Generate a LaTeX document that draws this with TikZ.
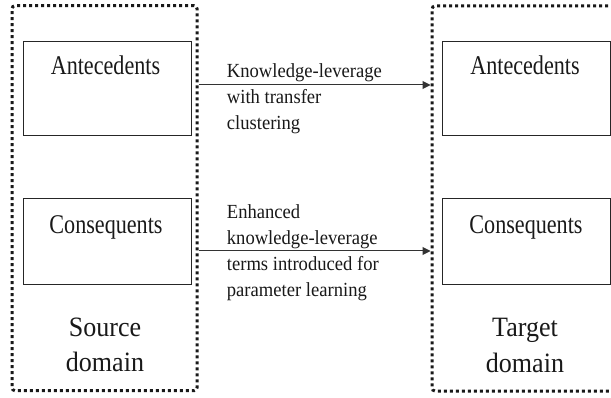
\documentclass[tikz,border=0pt]{standalone}
\usepackage{fontspec}
\setmainfont{Liberation Serif}
\newfontfamily\condA[FakeStretch=0.82]{Liberation Serif}
\newfontfamily\condB[FakeStretch=0.93]{Liberation Serif}
\usetikzlibrary{arrows.meta}
\begin{document}
\begin{tikzpicture}[x=1pt,y=-1pt,
  domainbox/.style={draw=black!90, line width=3pt, dash pattern=on 3pt off 3pt, rounded corners=3pt, minimum width=185pt, inner sep=0pt},
  partbox/.style={draw=black!85, line width=1pt, minimum width=168pt, inner sep=0pt},
  boxtext/.style={font=\condA\fontsize{27}{32}\selectfont, anchor=base, inner sep=0pt, text=black!90},
  domtext/.style={font=\condB\fontsize{28}{35.5}\selectfont, align=center, anchor=north, inner sep=0pt, text=black!90},
  arrowtext/.style={font=\condB\fontsize{20}{26}\selectfont, align=left, anchor=north west, inner sep=0pt, text=black!90},
  arrowline/.style={draw=black!80, line width=1pt, -{Triangle[length=8pt,width=8pt]}}
]
\useasboundingbox (0,0) rectangle (611,398);
\clip (0,0) rectangle (611,398);
\fill[white] (0,0) rectangle (611,398);
% outer domains
\node[domainbox, minimum height=385pt] (src) at (104.5,198.2) {};
\node[domainbox, minimum height=385pt] (tgt) at (524.5,198.5) {};
% inner boxes
\node[partbox, minimum height=94pt] (srcA) at (107,88.7) {};
\node[partbox, minimum height=86pt] (srcC) at (107,241.3) {};
\node[partbox, minimum height=94pt] (tgtA) at (526.2,88.7) {};
\node[partbox, minimum height=86pt] (tgtC) at (526.2,241.3) {};
% box texts
\node[boxtext] (srcAt) at (105.5,75) {Antecedents};
\node[boxtext] (srcCt) at (106,233.3) {Consequents};
\node[boxtext] (tgtAt) at (525,75) {Antecedents};
\node[boxtext] (tgtCt) at (526,233.3) {Consequents};
% domain texts
\node[domtext] (srct) at (105,317.7) {Source\\domain};
\node[domtext] (tgtt) at (525,318.2) {Target\\domain};
% arrows
\coordinate (ytop) at (0,85);
\coordinate (ybot) at (0,251);
\draw[arrowline] (src.east |- ytop) -- (tgt.west |- ytop);
\draw[arrowline] (src.east |- ybot) -- (tgt.west |- ybot);
% arrow labels
\node[arrowtext] (lab1) at (226.7,63.6) {Knowledge-leverage\\with transfer\\clustering};
\node[arrowtext] (lab2) at (226.7,204.3) {Enhanced\\knowledge-leverage\\terms introduced for\\parameter learning};
\end{tikzpicture}
\end{document}
